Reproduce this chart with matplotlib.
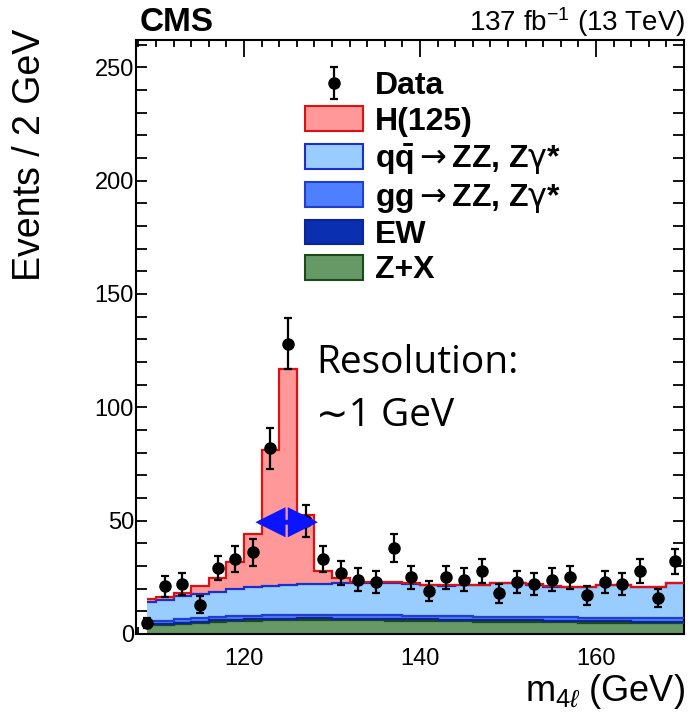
import numpy as np
import matplotlib
matplotlib.use("Agg")
import matplotlib.pyplot as plt
from matplotlib.patches import Patch
from matplotlib.ticker import MultipleLocator

plt.rcParams['font.family'] = ['Liberation Sans', 'DejaVu Sans']
plt.rcParams['mathtext.fontset'] = 'custom'
plt.rcParams['mathtext.rm'] = 'Liberation Sans'
plt.rcParams['mathtext.it'] = 'Liberation Sans:italic'
plt.rcParams['mathtext.bf'] = 'Liberation Sans:bold'
plt.rcParams['mathtext.sf'] = 'DejaVu Sans'

# ---------------- data ----------------
bin_edges = [109] + list(range(110, 171, 2))
bin_centers = [109, 111, 113, 115, 117, 119, 121, 123, 125, 127, 129, 131, 133, 135, 137,
               139, 141, 143, 145, 147, 149, 151, 153, 155, 157, 159, 161, 163, 165, 167, 169]
data_counts = [5, 21, 22, 13, 29, 33, 36, 82, 128, 50, 33, 27, 24, 23, 38,
               25, 19, 25, 24, 28, 18, 23, 22, 24, 25, 17, 23, 22, 28, 16, 32]
zx = [3.8, 3.8, 4.3, 4.8, 5.3, 5.6, 5.9, 6.0, 6.1, 6.2, 6.2, 6.1, 6.0, 6.0, 5.9,
      5.8, 5.7, 5.6, 5.6, 5.5, 5.4, 5.3, 5.3, 5.2, 5.1, 5.0, 5.0, 4.9, 4.8, 4.8, 4.8]
ew = [0.7, 0.7, 0.7, 0.7, 0.7, 0.7, 0.7, 0.7, 0.7, 0.7, 0.7, 0.7, 0.7, 0.7, 0.7,
      0.7, 0.7, 0.7, 0.7, 0.7, 0.7, 0.7, 0.7, 0.7, 0.7, 0.7, 0.7, 0.7, 0.7, 0.7, 0.7]
gg = [1.3, 1.3, 1.4, 1.4, 1.5, 1.5, 1.5, 1.6, 1.6, 1.6, 1.6, 1.6, 1.6, 1.6, 1.6,
      1.6, 1.6, 1.5, 1.5, 1.5, 1.5, 1.5, 1.5, 1.5, 1.5, 1.4, 1.4, 1.4, 1.4, 1.4, 1.4]
qq = [8.4, 9.2, 10.3, 10.6, 10.9, 11.9, 12.5, 12.8, 13.2, 13.4, 13.5, 13.9, 14.0, 14.1, 14.4,
      13.9, 13.4, 13.5, 13.8, 13.9, 14.7, 14.8, 14.3, 13.5, 13.5, 13.5, 14.5, 14.6, 13.9, 13.9, 15.7]
higgs = [1.1, 1.3, 1.5, 3.6, 6.1, 11.9, 23.7, 59.9, 95.4, 30.5, 5.9, 2.2, 0.8, 0.4, 0.3,
         0.3, 0.3, 0.2, 0.2, 0.2, 0.2, 0.2, 0.2, 0.2, 0.1, 0.1, 0.1, 0.1, 0.1, 0.1, 0.1]

arrow_gev = (121.3, 128.4)
arrow_level = 49.3

layers = [
    ("Z+X", zx, '#669966', '#1a4a1a'),
    ("EW", ew, '#0a2fb0', '#0a2499'),
    ("gg$\\mathsf{\\rightarrow}$ZZ, Z$\\mathsf{\\gamma}$*", gg, '#4d7fff', '#1f3fcc'),
    ("q$\\mathbf{\\bar{q}}$$\\mathsf{\\rightarrow}$ZZ, Z$\\mathsf{\\gamma}$*", qq, '#99ccff', '#1a2fcc'),
    ("H(125)", higgs, '#ff9999', '#dd1111'),
]

# ---------------- figure ----------------
W, H = 691, 712
fig = plt.figure(figsize=(W / 100, H / 100), dpi=100)
ax = fig.add_axes([136 / W, 1 - 634 / H, (684 - 136) / W, (634 - 40) / H])

edges = np.array(bin_edges, dtype=float)
bottom = np.zeros(len(bin_centers))
for name, vals, fc, ec in layers:
    top = bottom + np.array(vals)
    ax.stairs(top, edges, baseline=bottom, fill=True, facecolor=fc, edgecolor='none', zorder=2)
    ax.stairs(top, edges, baseline=None, color=ec, lw=1.6, zorder=3)
    bottom = top

counts = np.array(data_counts, dtype=float)
eb = ax.errorbar(bin_centers, counts, yerr=np.sqrt(counts), fmt='o', color='black',
                 markersize=8, elinewidth=1.6, capsize=3, capthick=1.6, zorder=5)

ax.set_xlim(107.73, 170)
ax.set_ylim(0, 262)

ax.xaxis.set_major_locator(MultipleLocator(20))
ax.xaxis.set_minor_locator(MultipleLocator(2))
ax.yaxis.set_major_locator(MultipleLocator(50))
ax.yaxis.set_minor_locator(MultipleLocator(10))
ax.tick_params(which='both', direction='in', top=True, right=True, width=1.3, labelsize=17)
ax.tick_params(axis='x', which='major', length=12, pad=10)
ax.tick_params(axis='x', which='minor', length=5)
ax.tick_params(axis='y', which='major', length=8, pad=1.5)
ax.tick_params(axis='y', which='minor', length=8)
for s in ax.spines.values():
    s.set_linewidth(1.5)

# arrow
ax.annotate('', xy=(arrow_gev[1], arrow_level), xytext=(arrow_gev[0], arrow_level),
            arrowprops=dict(arrowstyle='<|-|>,head_length=0.4,head_width=0.2',
                            color='#0a14ff', lw=3.5, mutation_scale=40, joinstyle='miter',
                            shrinkA=0, shrinkB=0), zorder=6)

# legend
handles = [eb] + [Patch(facecolor=fc, edgecolor=ec, linewidth=1.5)
                  for name, vals, fc, ec in reversed(layers)]
labels = ['Data'] + [name for name, vals, fc, ec in reversed(layers)]
leg = ax.legend(handles, labels, loc='upper left',
                bbox_to_anchor=(305 / W, 1 - 71 / H), bbox_transform=fig.transFigure,
                frameon=False, borderpad=0, borderaxespad=0,
                handlelength=1.81, handleheight=0.81, handletextpad=0.38,
                labelspacing=0.155, prop={'weight': 'bold', 'size': 23})

# texts
fig.text(140 / W, 1 - 31 / H, 'CMS', fontsize=24, fontweight='bold', ha='left', va='baseline')
fig.text(685 / W, 1 - 31 / H, '137 fb$^{-1}$ (13 TeV)', fontsize=20, ha='right', va='baseline')
fig.text(30 / W, 1 - 155 / H, 'Events / 2 GeV', fontsize=27, rotation=90, ha='center', va='center')
fig.text(685 / W, 1 - 701 / H, 'm$_{4\\ell}$ (GeV)', fontsize=26, ha='right', va='baseline')

fig.text(316 / W, 1 - 373 / H, 'Resolution:', fontsize=28, family=['Open Sans', 'DejaVu Sans'],
         ha='left', va='baseline')
fig.text(316 / W, 1 - 426 / H, '\u223c1 GeV', fontsize=28, family=['Open Sans', 'DejaVu Sans'],
         ha='left', va='baseline')

fig.savefig('out.png', dpi=100)
